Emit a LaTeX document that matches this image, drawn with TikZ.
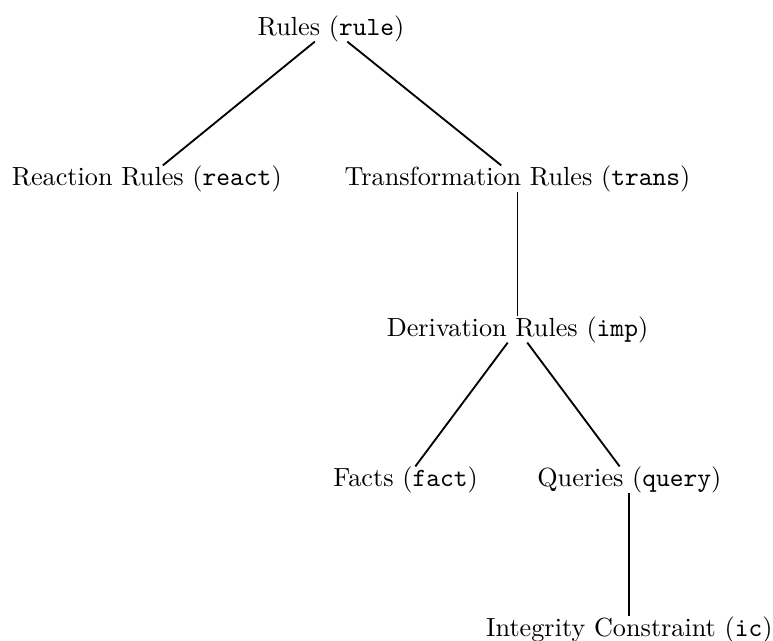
\documentclass[tikz,border=0pt]{standalone}
\begin{document}
\begin{tikzpicture}[
  lbl/.style={inner sep=0pt, outer sep=0pt},
  edge/.style={line width=0.7pt}
]
\useasboundingbox (-4.437,0.382) rectangle (5.925,-8.210);
\node[lbl] (rule)  at (0,0)        {Rules (\texttt{rule})};
\node[lbl] (react) at (-2.47,-2.011) {Reaction Rules (\texttt{react})};
\node[lbl] (trans) at (2.5,-2.011) {Transformation Rules (\texttt{trans})};
\node[lbl] (imp)   at (2.5,-4.035) {Derivation Rules (\texttt{imp})};
\node[lbl] (fact)  at (1,-6.046)   {Facts (\texttt{fact})};
\node[lbl] (query) at (4,-6.046)   {Queries (\texttt{query})};
\node[lbl] (ic)    at (4,-8.056)   {Integrity Constraint (\texttt{ic})};
\draw[edge] (rule) -- (react);
\draw[edge] (rule) -- (trans);
\draw[edge] (trans) -- (imp);
\draw[edge] (imp) -- (fact);
\draw[edge] (imp) -- (query);
\draw[edge] (query) -- (ic);
\end{tikzpicture}
\end{document}
